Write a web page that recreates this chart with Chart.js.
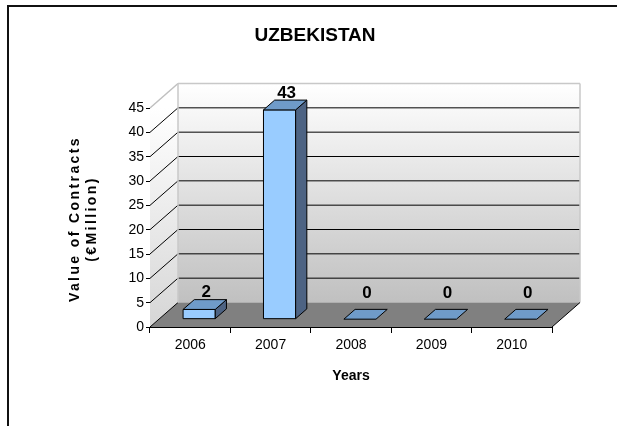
<!doctype html>
<html>
  <head>
    <title>Uzbekistan - Value of Contracts</title>
    <script src="https://cdn.jsdelivr.net/npm/chart.js"></script>
    <style>
      html,
      body {
        margin: 0;
        padding: 0;
        background: #fff;
      }
      canvas {
        display: block;
      }
    </style>
  </head>
  <body>
    <canvas id="chart" width="617" height="426"></canvas>

    <script>
      // data
      const years = ['2006', '2007', '2008', '2009', '2010'];
      const contracts = [2, 43, 0, 0, 0];
      const yMax = 45;
      const yStep = 5;

      const chartTitle = 'UZBEKISTAN';
      const yTitle = ['Value of Contracts', '(€Million)'];
      const xTitle = 'Years';

      const FONT = "'Liberation Sans', Arial, sans-serif";

      // oblique depth of the 3d box, and where the columns sit inside it
      const depth = { dx: 28, dy: -24.5 };
      const barFront = 0.32;
      const barDepth = 0.4;

      function poly(ctx, pts) {
        ctx.beginPath();
        ctx.moveTo(pts[0][0], pts[0][1]);
        for (let i = 1; i < pts.length; i++) ctx.lineTo(pts[i][0], pts[i][1]);
        ctx.closePath();
      }

      function line(ctx, x1, y1, x2, y2, color) {
        ctx.strokeStyle = color;
        ctx.beginPath();
        ctx.moveTo(x1, y1);
        ctx.lineTo(x2, y2);
        ctx.stroke();
      }

      const box3d = {
        id: 'box3d',
        beforeDatasetsDraw(chart) {
          const { ctx, chartArea: a, scales } = chart;
          const y = scales.y;
          const L = a.left,
            R = a.right;
          const T = y.getPixelForValue(yMax),
            B = y.getPixelForValue(0);
          const { dx, dy } = depth;
          ctx.save();
          ctx.lineWidth = 1;

          // back wall
          let g = ctx.createLinearGradient(0, T + dy, 0, B + dy);
          g.addColorStop(0, '#ffffff');
          g.addColorStop(1, '#c0c0c0');
          ctx.fillStyle = g;
          ctx.fillRect(L + dx, T + dy, R - L, B - T);

          // side wall
          g = ctx.createLinearGradient(0, T, 0, B);
          g.addColorStop(0, '#ffffff');
          g.addColorStop(1, '#d6d6d6');
          ctx.fillStyle = g;
          poly(ctx, [
            [L, T],
            [L + dx, T + dy],
            [L + dx, B + dy],
            [L, B],
          ]);
          ctx.fill();

          // floor
          ctx.fillStyle = '#808080';
          poly(ctx, [
            [L, B],
            [R, B],
            [R + dx, B + dy],
            [L + dx, B + dy],
          ]);
          ctx.fill();

          // grid lines on back and side walls
          for (let v = 0; v < yMax; v += yStep) {
            const py = y.getPixelForValue(v);
            if (v > 0) line(ctx, L + dx, py + dy, R + dx, py + dy, '#000');
            line(ctx, L, py, L + dx, py + dy, '#000');
          }

          // wall outlines
          ctx.lineWidth = 1.5;
          line(ctx, L, T, L + dx, T + dy, '#c0c0c0');
          line(ctx, L + dx, T + dy, R + dx, T + dy, '#c8c8c8');
          line(ctx, R + dx, T + dy, R + dx, B + dy, '#c8c8c8');
          line(ctx, L + dx, T + dy, L + dx, B + dy, '#c8c8c8');
          ctx.lineWidth = 1;
          line(ctx, R, B, R + dx, B + dy, '#000');
          ctx.restore();
        },
        afterDatasetsDraw(chart) {
          const { ctx } = chart;
          const meta = chart.getDatasetMeta(0);
          const fx = depth.dx * barFront,
            fy = depth.dy * barFront;
          const bx = depth.dx * barDepth,
            by = depth.dy * barDepth;
          ctx.save();
          ctx.lineWidth = 1;
          ctx.strokeStyle = '#000';
          ctx.lineJoin = 'miter';
          meta.data.forEach((bar, i) => {
            const p = bar.getProps(['x', 'y', 'base', 'width'], true);
            const x0 = p.x - p.width / 2 + fx,
              x1 = p.x + p.width / 2 + fx;
            const yt = p.y + fy,
              yb = p.base + fy;

            // front face
            if (yb - yt > 0.5) {
              ctx.fillStyle = '#99ccff';
              poly(ctx, [
                [x0, yt],
                [x1, yt],
                [x1, yb],
                [x0, yb],
              ]);
              ctx.fill();
              ctx.stroke();
              // right face
              ctx.fillStyle = '#4d6383';
              poly(ctx, [
                [x1, yt],
                [x1 + bx, yt + by],
                [x1 + bx, yb + by],
                [x1, yb],
              ]);
              ctx.fill();
              ctx.stroke();
            }
            // top face
            ctx.fillStyle = '#6f9bc9';
            poly(ctx, [
              [x0, yt],
              [x1, yt],
              [x1 + bx, yt + by],
              [x0 + bx, yt + by],
            ]);
            ctx.fill();
            ctx.stroke();

            // value label
            ctx.fillStyle = '#000';
            ctx.font = 'bold 17px ' + FONT;
            ctx.textAlign = 'center';
            ctx.textBaseline = 'middle';
            const lift = contracts[i] > 0 ? 17 : 26;
            ctx.fillText(String(contracts[i]), p.x + 16, yt - lift);
          });
          ctx.restore();
        },
        afterDraw(chart) {
          const { ctx } = chart;
          ctx.save();
          // outer frame (top and left edges only are visible)
          ctx.fillStyle = '#111';
          ctx.fillRect(7, 5, 610, 2);
          ctx.fillRect(7, 5, 2, 421);

          // chart title
          ctx.fillStyle = '#000';
          ctx.textAlign = 'center';
          ctx.textBaseline = 'middle';
          ctx.font = 'bold 19px ' + FONT;
          ctx.fillText(chartTitle, 315, 36);

          // y axis title, two rotated lines with spaced letters
          ctx.font = 'bold 14px ' + FONT;
          ctx.letterSpacing = '2.4px';
          ctx.translate(84, 219);
          ctx.rotate(-Math.PI / 2);
          ctx.fillText(yTitle[0], 0, -8.4);
          ctx.fillText(yTitle[1], 0, 8.4);
          ctx.restore();
        },
      };

      new Chart(document.getElementById('chart'), {
        type: 'bar',
        data: {
          labels: years,
          datasets: [
            {
              label: 'Value of Contracts',
              data: contracts,
              backgroundColor: 'rgba(0,0,0,0)',
              borderWidth: 0,
              categoryPercentage: 1,
              barPercentage: 0.4,
            },
          ],
        },
        options: {
          responsive: false,
          animation: false,
          devicePixelRatio: 1,
          layout: { padding: { left: 0, right: 65, top: 108, bottom: 0 } },
          plugins: {
            legend: { display: false },
            tooltip: { enabled: false },
            title: { display: false },
          },
          scales: {
            x: {
              z: 1,
              afterFit: (s) => {
                s.height = 99;
              },
              grid: {
                drawOnChartArea: false,
                drawTicks: true,
                tickLength: 6,
                color: '#000',
                offset: true,
              },
              border: { display: true, color: '#000' },
              ticks: {
                color: '#000',
                padding: 4,
                font: { family: FONT, size: 14 },
              },
              title: {
                display: true,
                text: xTitle,
                color: '#000',
                font: { family: FONT, size: 14, weight: 'bold' },
                padding: { top: 0, bottom: 41 },
              },
            },
            y: {
              z: 1,
              min: 0,
              max: yMax,
              afterFit: (s) => {
                s.width = 150;
              },
              grid: {
                drawOnChartArea: false,
                drawTicks: true,
                tickLength: 4,
                color: '#000',
              },
              border: { display: true, color: '#000' },
              ticks: {
                stepSize: yStep,
                color: '#000',
                padding: 2,
                font: { family: FONT, size: 14 },
              },
            },
          },
        },
        plugins: [box3d],
      });
    </script>
  </body>
</html>
